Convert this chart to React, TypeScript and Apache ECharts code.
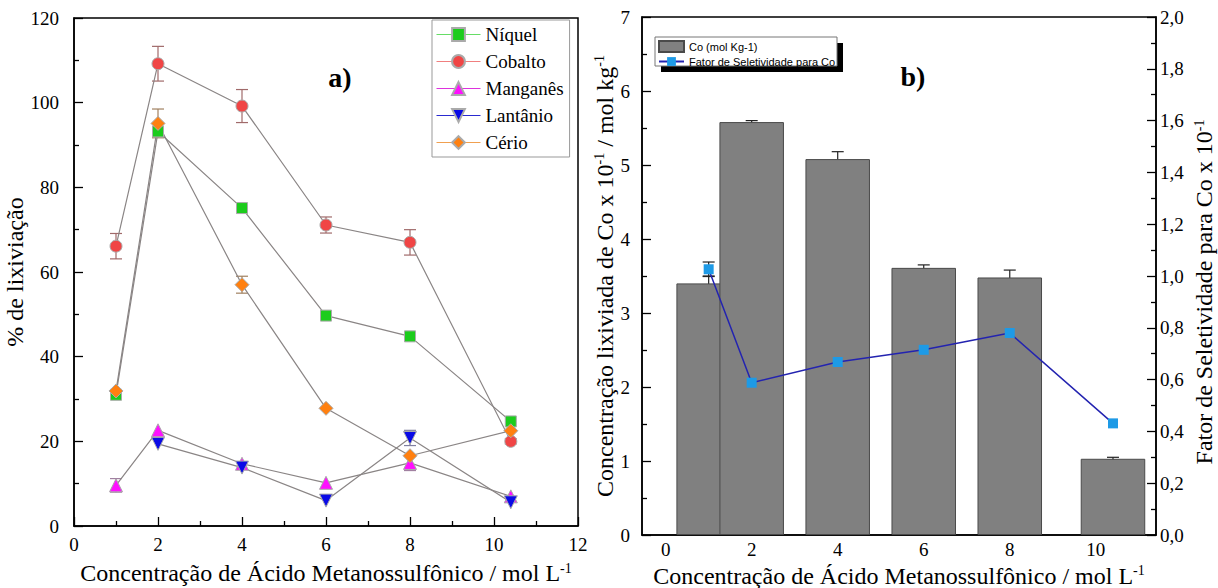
import React, { useEffect, useRef } from 'react';
import * as echarts from 'echarts';

// ---------- Chart a) data ----------
const leftX = [1, 2, 4, 6, 8, 10.4];
const niquel = [31, 93.2, 75.1, 49.7, 44.8, 24.7];
const cobalto = [66.1, 109.2, 99.2, 71.1, 67, 20];
const manganes = [9.6, 22.6, 14.7, 10.2, 14.9, 7];
const lantanioX = [2, 4, 6, 8, 10.4];
const lantanio = [19.4, 13.8, 6, 20.8, 5.6];
const cerio = [31.9, 95.1, 57, 27.8, 16.6, 22.5];
const cobaltoErr = [3, 4.1, 3.9, 1.9, 3, 0.6];
const cerioErr = [0, 3.4, 2, 0, 0, 0];
const manganesErr = [1.6, 0, 0, 0, 1.8, 0];
const lantanioErr = [0, 0, 0, 1.8, 0];
const leftXTicks = [0, 12, 2];
const leftYTicks = [0, 120, 20];

// ---------- Chart b) data ----------
const rightX = [1, 2, 4, 6, 8, 10.4];
const coConc = [3.4, 5.58, 5.08, 3.61, 3.48, 1.03];
const coConcErr = [0.1, 0.02, 0.1, 0.04, 0.1, 0.02];
const fator = [1.026, 0.588, 0.668, 0.715, 0.78, 0.431];
const fatorErr = [0.028, 0, 0, 0, 0, 0];
const rightXLabels = [0, 2, 4, 6, 8, 10];
const rightXRange = [-0.55, 11.4];
const barWidthUnits = 1.5;

const SERIF = "'Liberation Serif', 'DejaVu Serif', serif";
const SANS = "'Liberation Sans', Arial, sans-serif";

const G0 = { left: 74, top: 18, width: 504, height: 508 };
const G1 = { left: 642, top: 17, width: 514, height: 518 };

function errRows(xs: number[], ys: number[], es: number[]) {
  const rows: number[][] = [];
  xs.forEach((x, i) => {
    if (es[i] > 0) rows.push([x, ys[i] - es[i], ys[i] + es[i]]);
  });
  return rows;
}

function errSeries(name: string, xi: number, yi: number, data: number[][], color: string, half: number) {
  return {
    type: 'custom',
    name,
    xAxisIndex: xi,
    yAxisIndex: yi,
    z: 1,
    silent: true,
    encode: { x: 0, y: [1, 2] },
    data,
    renderItem: (params: any, api: any) => {
      const x = api.value(0);
      const lo = api.value(1);
      const hi = api.value(2);
      const a = api.coord([x, hi]);
      const b = api.coord([x, lo]);
      const st = { stroke: color, lineWidth: 1.2 };
      return {
        type: 'group',
        children: [
          { type: 'line', shape: { x1: a[0], y1: a[1], x2: b[0], y2: b[1] }, style: st },
          { type: 'line', shape: { x1: a[0] - half, y1: a[1], x2: a[0] + half, y2: a[1] }, style: st },
          { type: 'line', shape: { x1: b[0] - half, y1: b[1], x2: b[0] + half, y2: b[1] }, style: st },
        ],
      };
    },
  };
}

const pair = (xs: number[], ys: number[]) => xs.map((x, i) => [x, ys[i]]);

const axisCommon = {
  axisLine: { show: true, onZero: false, lineStyle: { color: '#000', width: 1.5 } },
  axisTick: { show: true, inside: true, length: 9, lineStyle: { color: '#000', width: 1.3 } },
  minorTick: { show: true, splitNumber: 2, length: 5, lineStyle: { color: '#000', width: 1.3 } },
  splitLine: { show: false },
  minorSplitLine: { show: false },
  axisLabel: { color: '#000', fontSize: 19, fontFamily: SERIF, margin: 12 },
};

const richSup = {
  sup: { fontSize: 14, fontFamily: SERIF, color: '#000', verticalAlign: 'top', lineHeight: 14 },
};

const nameStyle = {
  color: '#000',
  fontSize: 24,
  fontFamily: SERIF,
  lineHeight: 24,
  rich: richSup,
};

const lineColor = '#8a8585';

function mkLine(name: string, xs: number[], ys: number[], symbol: string, color: string, size: number, rotate = 0) {
  return {
    type: 'line',
    name,
    xAxisIndex: 0,
    yAxisIndex: 0,
    data: pair(xs, ys),
    symbol,
    symbolSize: size,
    symbolRotate: rotate,
    showSymbol: true,
    lineStyle: { color: lineColor, width: 1.2 },
    itemStyle: { color, borderColor: '#aaaaaa', borderWidth: 1 },
    z: 3,
  };
}

export default function App() {
  const ref = useRef<HTMLDivElement>(null);
  useEffect(() => {
    if (!ref.current) return;
    const chart = echarts.init(ref.current, undefined, { renderer: 'svg' });
    const pxPerUnit = G1.width / (rightXRange[1] - rightXRange[0]);
    const gridCommon = {
      show: true,
      borderColor: '#000',
      borderWidth: 1.5,
      backgroundColor: 'transparent',
      containLabel: false,
      outerBoundsMode: 'none',
    };
    const option: any = {
      animation: false,
      backgroundColor: '#fff',
      textStyle: { fontFamily: SERIF },
      grid: [
        { ...G0, ...gridCommon },
        { ...G1, ...gridCommon },
      ],
      xAxis: [
        {
          ...axisCommon,
          gridIndex: 0,
          type: 'value',
          min: leftXTicks[0],
          max: leftXTicks[1],
          interval: leftXTicks[2],
          axisLabel: { ...axisCommon.axisLabel, margin: 9 },
          name: 'Concentração de Ácido Metanossulfônico / mol L{sup|-1}',
          nameLocation: 'middle',
          nameGap: 35,
          nameTextStyle: nameStyle,
        },
        {
          ...axisCommon,
          gridIndex: 1,
          type: 'value',
          min: rightXRange[0],
          max: rightXRange[1],
          axisTick: { show: false },
          minorTick: { show: false },
          axisLabel: { ...axisCommon.axisLabel, margin: 5, customValues: rightXLabels },
          name: 'Concentração de Ácido Metanossulfônico / mol L{sup|-1}',
          nameLocation: 'middle',
          nameGap: 27,
          nameTextStyle: nameStyle,
        },
      ],
      yAxis: [
        {
          ...axisCommon,
          gridIndex: 0,
          type: 'value',
          min: leftYTicks[0],
          max: leftYTicks[1],
          interval: leftYTicks[2],
          axisLabel: { ...axisCommon.axisLabel, margin: 15 },
          name: '% de lixiviação',
          nameLocation: 'middle',
          nameRotate: 90,
          nameGap: 30,
          nameTextStyle: nameStyle,
        },
        {
          ...axisCommon,
          gridIndex: 1,
          type: 'value',
          min: 0,
          max: 7,
          interval: 1,
          name: 'Concentração lixiviada de Co x 10{sup|-1} / mol kg{sup|-1}',
          nameLocation: 'middle',
          nameRotate: 90,
          nameGap: 9,
          nameTextStyle: nameStyle,
        },
        {
          ...axisCommon,
          gridIndex: 1,
          type: 'value',
          position: 'right',
          min: 0,
          max: 2,
          interval: 0.2,
          axisLabel: {
            ...axisCommon.axisLabel,
            margin: 4,
            formatter: (v: number) => v.toFixed(1).replace('.', ','),
          },
        },
      ],
      legend: [
        {
          left: 432,
          top: 20,
          orient: 'vertical',
          backgroundColor: '#fff',
          borderColor: '#999',
          borderWidth: 1,
          padding: [5, 6, 5, 4],
          itemGap: 8,
          itemWidth: 44,
          itemHeight: 16,
          textStyle: { color: '#000', fontSize: 19, fontFamily: SERIF },
          data: [
            { name: 'Níquel', lineStyle: { color: '#66dd66', width: 1 } },
            { name: 'Cobalto', lineStyle: { color: '#f07f7f', width: 1 } },
            { name: 'Manganês', lineStyle: { color: '#dd33dd', width: 1 } },
            { name: 'Lantânio', lineStyle: { color: '#2a2ad0', width: 1 } },
            { name: 'Cério', lineStyle: { color: '#f0a050', width: 1 } },
          ],
        },
        {
          left: 656,
          top: 38,
          orient: 'vertical',
          padding: [2, 2, 2, 2],
          itemGap: 3,
          itemWidth: 25,
          itemHeight: 11,
          textStyle: { color: '#000', fontSize: 11, fontFamily: SANS },
          data: [
            { name: 'Co (mol Kg-1)', icon: 'rect' },
            { name: 'Fator de Seletividade para Co' },
          ],
        },
      ],
      graphic: [
        { type: 'rect', z: 0, shape: { x: 661, y: 43, width: 182, height: 29 }, style: { fill: '#000' } },
        { type: 'rect', z: 0, shape: { x: 655, y: 37, width: 182, height: 29 }, style: { fill: '#fff', stroke: '#777', lineWidth: 1 } },
        { type: 'text', z: 10, x: 340, y: 77, style: { text: 'a)', fontSize: 28, fontWeight: 'bold', fontFamily: SERIF, fill: '#000', align: 'center', verticalAlign: 'middle' } },
        { type: 'text', z: 10, x: 913, y: 76, style: { text: 'b)', fontSize: 28, fontWeight: 'bold', fontFamily: SERIF, fill: '#000', align: 'center', verticalAlign: 'middle' } },
        {
          type: 'text',
          z: 10,
          x: 1204,
          y: 292,
          rotation: Math.PI / 2,
          style: {
            text: 'Fator de Seletividade para Co x 10{sup|-1}',
            fontSize: 24,
            fontFamily: SERIF,
            fill: '#000',
            align: 'center',
            verticalAlign: 'middle',
            rich: richSup,
          },
        },
      ],
      series: [
        errSeries('errCo', 0, 0, errRows(leftX, cobalto, cobaltoErr), '#a06a6a', 6),
        errSeries('errCe', 0, 0, errRows(leftX, cerio, cerioErr), '#a08060', 6),
        errSeries('errMn', 0, 0, errRows(leftX, manganes, manganesErr), '#a080a0', 6),
        errSeries('errLa', 0, 0, errRows(lantanioX, lantanio, lantanioErr), '#8080a0', 6),
        mkLine('Níquel', leftX, niquel, 'rect', '#1ccc1c', 11),
        mkLine('Cobalto', leftX, cobalto, 'circle', '#f04545', 12),
        mkLine('Manganês', leftX, manganes, 'triangle', '#ff10ff', 13),
        mkLine('Lantânio', lantanioX, lantanio, 'triangle', '#0a0ae6', 13, 180),
        mkLine('Cério', leftX, cerio, 'diamond', '#ff8010', 14),
        {
          type: 'bar',
          name: 'Co (mol Kg-1)',
          xAxisIndex: 1,
          yAxisIndex: 1,
          data: pair(rightX, coConc),
          barWidth: barWidthUnits * pxPerUnit,
          itemStyle: { color: '#808080', borderColor: '#4a4a4a', borderWidth: 1 },
          z: 1,
        },
        errSeries('errBar', 1, 1, errRows(rightX, coConc, coConcErr), '#222', 6),
        errSeries('errFator', 1, 2, errRows(rightX, fator, fatorErr), '#222', 6),
        {
          type: 'line',
          name: 'Fator de Seletividade para Co',
          xAxisIndex: 1,
          yAxisIndex: 2,
          data: pair(rightX, fator),
          symbol: 'rect',
          symbolSize: 10,
          showSymbol: true,
          lineStyle: { color: '#2323b0', width: 1.5 },
          itemStyle: { color: '#1e9ae6' },
          z: 3,
        },
      ],
    };
    chart.setOption(option);
    return () => chart.dispose();
  }, []);
  return (
    <div
      ref={ref}
      style={{ position: 'absolute', left: 0, top: 0, width: 1218, height: 588 }}
    />
  );
}
